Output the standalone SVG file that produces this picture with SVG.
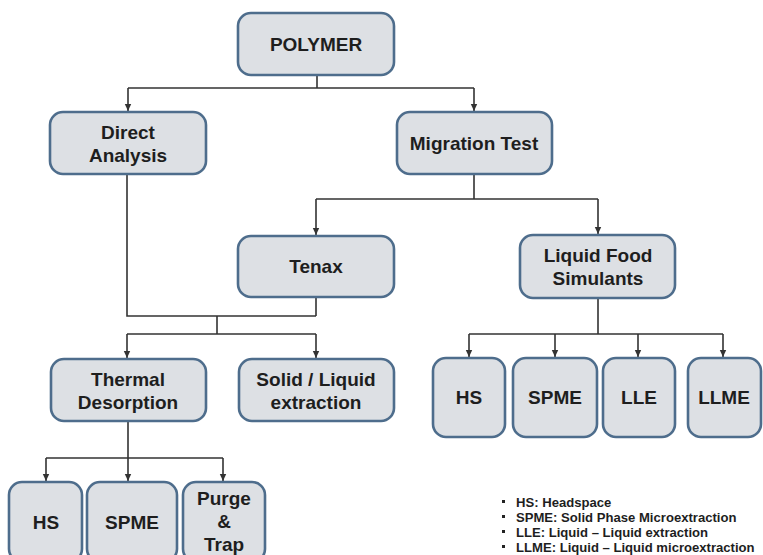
<svg xmlns="http://www.w3.org/2000/svg" width="763" height="555" viewBox="0 0 763 555">
<style>
.box{fill:#dde0e4;stroke:#4e6d8c;stroke-width:2.6}
.t{font-family:"Liberation Sans",Arial,sans-serif;font-weight:bold;font-size:19px;fill:#1e1e1e;text-anchor:middle}
.c{fill:none;stroke:#333;stroke-width:1.6}
.lg{font-family:"Liberation Sans",Arial,sans-serif;font-weight:bold;font-size:13.1px;fill:#1e1e1e}
</style>
<defs>
<marker id="a" markerUnits="userSpaceOnUse" markerWidth="8" markerHeight="8" refX="4" refY="8" orient="0" viewBox="0 0 8 8">
<path d="M0.8 1 L7.2 1 L4 8 Z" fill="#333"/>
</marker>
</defs>
<rect width="763" height="555" fill="#fff"/>
<g id="connectors">
<path class="c" d="M317 75 V88 M128 88 H474"/>
<path class="c" d="M128 88 V111" marker-end="url(#a)"/>
<path class="c" d="M474 88 V111" marker-end="url(#a)"/>
<path class="c" d="M474 174 V199 M316 199 H598"/>
<path class="c" d="M316 199 V235" marker-end="url(#a)"/>
<path class="c" d="M598 199 V234" marker-end="url(#a)"/>
<path class="c" d="M127 174 V316 H316 M316 297 V316 M217 316 V334 M127 334 H316"/>
<path class="c" d="M127 334 V358" marker-end="url(#a)"/>
<path class="c" d="M316 334 V358" marker-end="url(#a)"/>
<path class="c" d="M598 298 V334 M469 334 H723"/>
<path class="c" d="M469 334 V357" marker-end="url(#a)"/>
<path class="c" d="M555 334 V357" marker-end="url(#a)"/>
<path class="c" d="M638 334 V357" marker-end="url(#a)"/>
<path class="c" d="M723 334 V357" marker-end="url(#a)"/>
<path class="c" d="M128 421 V458 M46 458 H223"/>
<path class="c" d="M46 458 V481" marker-end="url(#a)"/>
<path class="c" d="M128 458 V481" marker-end="url(#a)"/>
<path class="c" d="M223 458 V481" marker-end="url(#a)"/>
</g>
<g id="polymer"><rect class="box" x="238" y="13" width="156" height="62" rx="13"/><text class="t" x="316" y="51">POLYMER</text></g>
<g id="direct"><rect class="box" x="50" y="112" width="156" height="62" rx="13"/><text class="t" x="128" y="139">Direct</text><text class="t" x="128" y="162">Analysis</text></g>
<g id="migration"><rect class="box" x="397" y="112" width="155" height="62" rx="13"/><text class="t" x="474" y="150">Migration Test</text></g>
<g id="tenax"><rect class="box" x="238" y="236" width="156" height="61" rx="13"/><text class="t" x="316" y="273">Tenax</text></g>
<g id="liquidfood"><rect class="box" x="520" y="235" width="155" height="63" rx="13"/><text class="t" x="598" y="262">Liquid Food</text><text class="t" x="598" y="285">Simulants</text></g>
<g id="thermal"><rect class="box" x="51" y="359" width="155" height="62" rx="13"/><text class="t" x="128" y="386">Thermal</text><text class="t" x="128" y="409">Desorption</text></g>
<g id="solidliquid"><rect class="box" x="239" y="359" width="155" height="62" rx="13"/><text class="t" x="316" y="386">Solid / Liquid</text><text class="t" x="316" y="409">extraction</text></g>
<g id="hs2"><rect class="box" x="433" y="358" width="72" height="79" rx="13"/><text class="t" x="469" y="404">HS</text></g>
<g id="spme2"><rect class="box" x="513" y="358" width="84" height="79" rx="13"/><text class="t" x="555" y="404">SPME</text></g>
<g id="lle"><rect class="box" x="603" y="358" width="72" height="79" rx="13"/><text class="t" x="639" y="404">LLE</text></g>
<g id="llme"><rect class="box" x="688" y="358" width="73" height="79" rx="13"/><text class="t" x="724" y="404">LLME</text></g>
<g id="hs1"><rect class="box" x="9" y="482" width="73" height="80" rx="13"/><text class="t" x="46" y="529">HS</text></g>
<g id="spme1"><rect class="box" x="87" y="482" width="90" height="80" rx="13"/><text class="t" x="132" y="529">SPME</text></g>
<g id="purge"><rect class="box" x="183" y="482" width="82" height="80" rx="13"/><text class="t" x="224" y="505">Purge</text><text class="t" x="224" y="528">&amp;</text><text class="t" x="224" y="551">Trap</text></g>
<g id="legend">
<rect x="502" y="500" width="3" height="3" fill="#222"/>
<rect x="502" y="515" width="3" height="3" fill="#222"/>
<rect x="502" y="530" width="3" height="3" fill="#222"/>
<rect x="502" y="545" width="3" height="3" fill="#222"/>
<text class="lg" x="516" y="507">HS: Headspace</text>
<text class="lg" x="516" y="522">SPME: Solid Phase Microextraction</text>
<text class="lg" x="516" y="537">LLE: Liquid – Liquid extraction</text>
<text class="lg" x="516" y="552">LLME: Liquid – Liquid microextraction</text>
</g>
</svg>
